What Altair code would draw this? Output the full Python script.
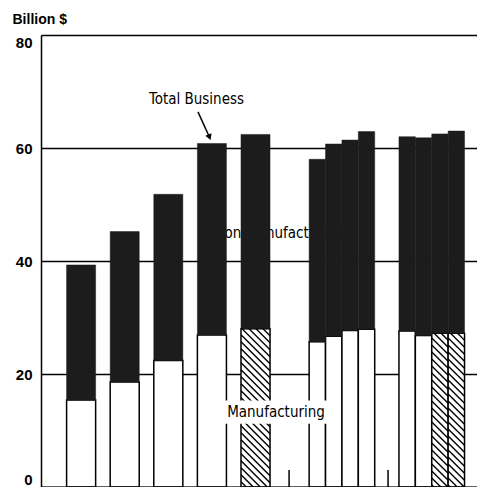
import altair as alt
import pandas as pd

# ---- data (billion $) ----
periods = ["1963", "1964", "1965", "1966", "1967",
           "1966 I", "1966 II", "1966 III", "1966 IV",
           "1967 I", "1967 II", "1967 III", "1967 IV"]
kind = ["annual"] * 5 + ["quarter"] * 8
anticipated = [False, False, False, False, True,
               False, False, False, False,
               False, False, True, True]
manufacturing = [15.4, 18.6, 22.4, 26.9, 28.0,
                 25.7, 26.7, 27.7, 27.9,
                 27.6, 26.8, 27.2, 27.2]
total_business = [39.3, 45.2, 51.8, 60.8, 62.4,
                  58.0, 60.7, 61.4, 62.9,
                  62.0, 61.8, 62.5, 63.0]
y_ticks = [0, 20, 40, 60, 80]

# ---- layout ----
W, H = 436, 452
XMAX, YMAX = 10.0, 80
ANNUAL_START, ANNUAL_W = 0.587, 0.666
QUARTER_GROUP_START = [6.15, 8.21]
QUARTER_W = 0.376
SEPARATORS = [5.69, 7.96]

rows = []
qi = 0
ai = 0
for p, k, a, m, t in zip(periods, kind, anticipated, manufacturing, total_business):
    if k == "annual":
        x0 = ANNUAL_START + ai
        x1 = x0 + ANNUAL_W
        ai += 1
    else:
        g = qi // 4
        j = qi % 4
        x0 = QUARTER_GROUP_START[g] + j * QUARTER_W
        x1 = x0 + QUARTER_W
        qi += 1
    rows.append(dict(period=p, x0=x0, x1=x1, base=0.0, mfg=m, total=t, hatched=a))
df = pd.DataFrame(rows)

# hatch lines for anticipated manufacturing sections
pxx, pxy = W / XMAX, H / YMAX
hatch_rows = []
SP = 7.0
for r in rows:
    if not r["hatched"]:
        continue
    X0, X1 = r["x0"] * pxx, r["x1"] * pxx
    Yt, Yb = H - r["mfg"] * pxy, H - r["base"] * pxy
    k = Yt - X1
    while k < Yb - X0:
        xa = max(X0, Yt - k)
        xb = min(X1, Yb - k)
        if xb > xa:
            hatch_rows.append(dict(hx0=xa / pxx, hx1=xb / pxx,
                                   hy0=(H - (xa + k)) / pxy,
                                   hy1=(H - (xb + k)) / pxy))
        k += SP
hatch_df = pd.DataFrame(hatch_rows)

sep_df = pd.DataFrame(dict(sx=SEPARATORS, sy0=[0, 0], sy1=[3.0, 3.0]))

xscale = alt.Scale(domain=[0, XMAX], nice=False, zero=False)
yscale = alt.Scale(domain=[0, YMAX], nice=False)

xaxis = alt.Axis(labels=False, ticks=False, grid=False, domainColor="black",
                 domainWidth=2, title=None, zindex=1)
yaxis = alt.Axis(values=y_ticks, ticks=False, labelFont="Liberation Sans",
                 labelFontWeight="bold", labelFontSize=15, labelColor="black",
                 labelPadding=9, labelFlush=True,
                 domainColor="black", domainWidth=1.5,
                 grid=True, gridColor="black", gridWidth=1.4, gridOpacity=1,
                 title="Billion $", titleAngle=0, titleFont="Liberation Sans",
                 titleFontSize=14, titleFontWeight="bold", titleColor="black",
                 titleAlign="left", titleBaseline="alphabetic",
                 titleX=-29, titleY=-12)


def X(f):
    return alt.X(f, type="quantitative", scale=xscale, axis=xaxis)


def Y(f):
    return alt.Y(f, type="quantitative", scale=yscale, axis=yaxis)


LABEL_FONT = "'Liberation Sans Narrow', 'DejaVu Sans Condensed', Roboto, sans-serif"
LABEL_SIZE = 15

nonmfg_label = alt.Chart(pd.DataFrame(dict(lx=[5.46], ly=[45.0], t=["Non-Manufacturing"]))).mark_text(
    font=LABEL_FONT, fontSize=LABEL_SIZE, color="black", align="center", baseline="middle"
).encode(x=X("lx"), y=Y("ly"), text="t:N")

mfg_bars = alt.Chart(df).mark_rect(fill="white", stroke="black", strokeWidth=1.5).encode(
    x=X("x0"), x2="x1", y=Y("base"), y2="mfg"
)
nonmfg_bars = alt.Chart(df).mark_rect(fill="#1c1c1c", stroke="#1c1c1c", strokeWidth=0.5).encode(
    x=X("x0"), x2="x1", y=Y("mfg"), y2="total"
)
hatch = alt.Chart(hatch_df).mark_rule(color="black", strokeWidth=1.4).encode(
    x=X("hx0"), x2="hx1", y=Y("hy0"), y2="hy1"
)
seps = alt.Chart(sep_df).mark_rule(color="black", strokeWidth=1.5).encode(
    x=X("sx"), y=Y("sy0"), y2="sy1"
)

box = alt.Chart(pd.DataFrame(dict(bx0=[4.22], bx1=[6.63], by0=[11.2], by1=[15.3]))).mark_rect(
    fill="white"
).encode(x=X("bx0"), x2="bx1", y=Y("by0"), y2="by1")
mfg_label = alt.Chart(pd.DataFrame(dict(lx=[5.39], ly=[13.3], t=["Manufacturing"]))).mark_text(
    font=LABEL_FONT, fontSize=LABEL_SIZE, color="black", align="center", baseline="middle"
).encode(x=X("lx"), y=Y("ly"), text="t:N")

tb_label = alt.Chart(pd.DataFrame(dict(lx=[3.567], ly=[68.7], t=["Total Business"]))).mark_text(
    font=LABEL_FONT, fontSize=LABEL_SIZE, color="black", align="center", baseline="middle"
).encode(x=X("lx"), y=Y("ly"), text="t:N")
arrow = alt.Chart(pd.DataFrame(dict(ax0=[3.60], ax1=[3.86], ay0=[66.4], ay1=[62.0]))).mark_rule(
    color="black", strokeWidth=1.5
).encode(x=X("ax0"), x2="ax1", y=Y("ay0"), y2="ay1")
arrow_head = alt.Chart(pd.DataFrame(dict(hx=[3.865], hy=[61.9]))).mark_point(
    shape="triangle-down", filled=True, color="black", size=45, angle=338, opacity=1
).encode(x=X("hx"), y=Y("hy"))

chart = alt.layer(
    nonmfg_label, mfg_bars, nonmfg_bars, hatch, seps, box, mfg_label, tb_label, arrow, arrow_head
).properties(
    width=W, height=H,
    autosize=alt.AutoSizeParams(type="none"),
    padding={"left": 33, "top": 27, "right": 0, "bottom": 0},
    background="white",
).configure_view(strokeWidth=0)

chart.save("out.html", embed_options={"renderer": "svg", "actions": False})
